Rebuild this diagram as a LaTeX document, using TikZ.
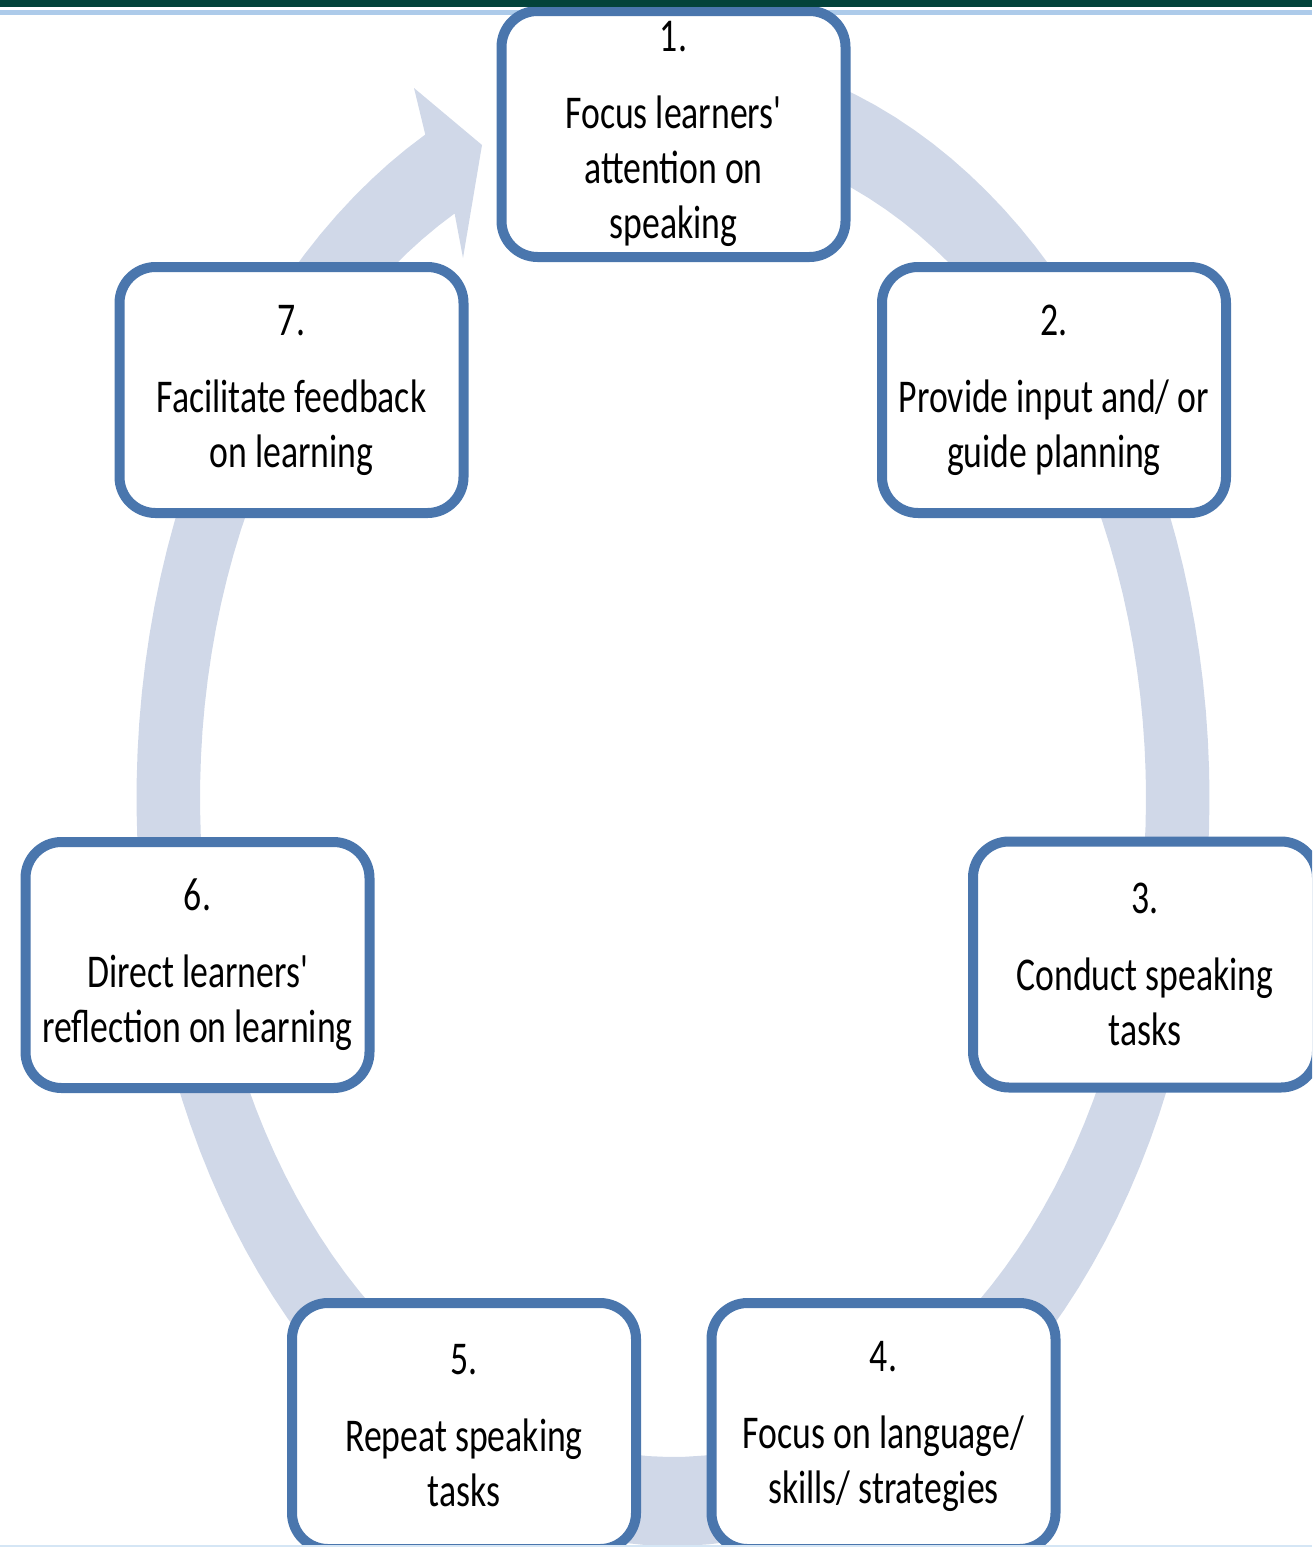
\documentclass[tikz,border=0pt]{standalone}
\usepackage{fontspec}
\setmainfont{Carlito}[FakeStretch=0.76,Ligatures=TeXOff]
\definecolor{boxblue}{HTML}{4A76AD}
\definecolor{ringc}{HTML}{D0D8E8}
\definecolor{topbar}{HTML}{03433A}
\definecolor{topline}{HTML}{ADCBEA}
\definecolor{botline}{HTML}{D5E6F5}
\tikzset{stepbox/.style={draw=boxblue, line width=5pt, fill=white, rounded corners=18pt,
  minimum width=172pt, minimum height=123pt, inner sep=0pt, align=center,
  font=\fontsize{23.5}{27.5}\selectfont}}
\begin{document}
\begin{tikzpicture}[x=0.5pt,y=-0.5pt]
\useasboundingbox (0,0) rectangle (1312,1547);
\clip (0,0) rectangle (1312,1547);
% top thin light line
\fill[topline] (0,10) rectangle (1312,15);
% cycle ring with arrowhead
\fill[ringc] plot[domain=-95:242.5, samples=150] ({673+536.5*cos(\x)},{798+748*sin(\x)})
  -- (414,88) -- (482,145) -- (463,258)
  -- plot[domain=242.5:-95, samples=150] ({673+473*cos(\x)},{798+659*sin(\x)}) -- cycle;
% steps
\node[stepbox] (s1) at (673.5,134) {1.\\[11pt]Focus learners'\\attention on\\speaking};
\node[stepbox] (s2) at (1054,390) {2.\\[11pt]Provide input and/ or\\guide planning};
\node[stepbox] (s3) at (1145,964.5) {3.\\[11pt]Conduct speaking\\tasks};
\node[stepbox] (s4) at (883.5,1426) {4.\\[11pt]Focus on language/\\skills/ strategies};
\node[stepbox] (s5) at (464,1426) {5.\\[11pt]Repeat speaking\\tasks};
\node[stepbox] (s6) at (197.5,965) {6.\\[11pt]Direct learners'\\reflection on learning};
\node[stepbox] (s7) at (291.5,390) {7.\\[11pt]Facilitate feedback\\on learning};
% top dark bar and bottom light line
\fill[topbar] (0,0) rectangle (1312,7);
\fill[botline] (0,1545) rectangle (1312,1547);
\end{tikzpicture}
\end{document}
